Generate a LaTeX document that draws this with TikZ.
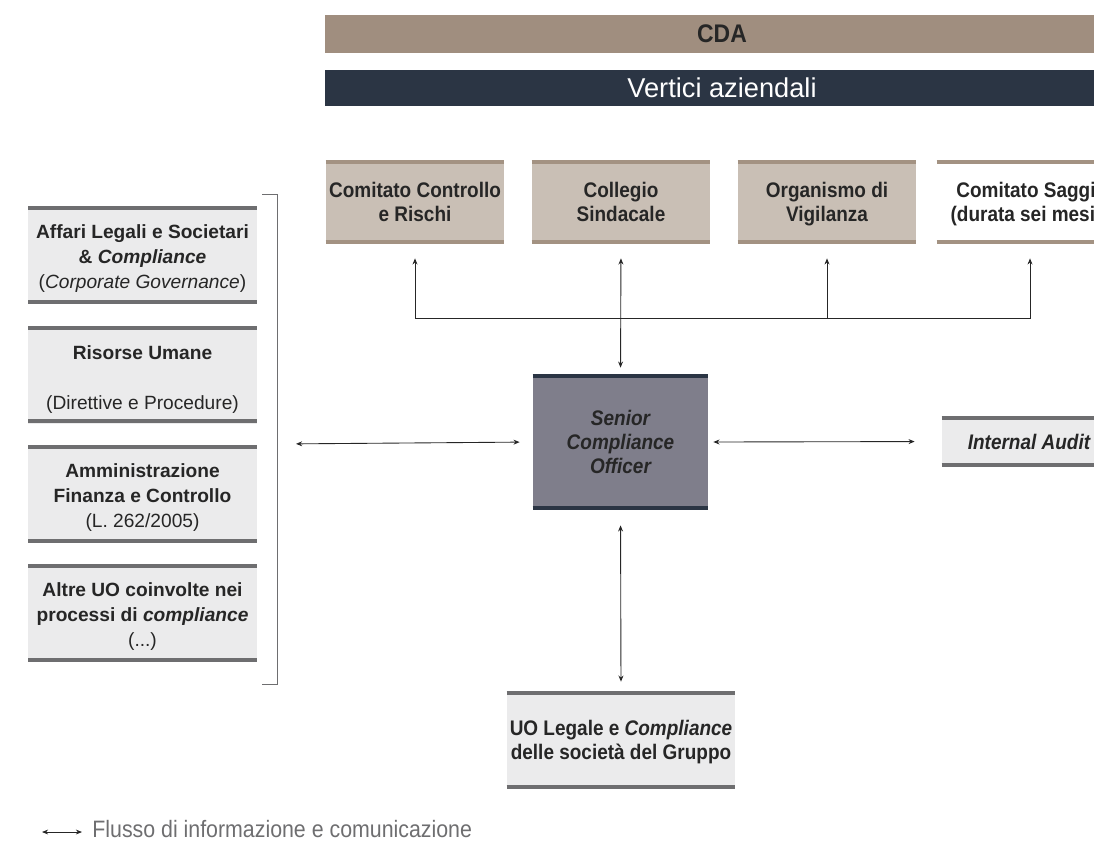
\documentclass[tikz,border=0pt]{standalone}
\usepackage{fontspec}
\setmainfont{Liberation Sans}
\newfontfamily\narrowfont[FakeStretch=0.9]{Liberation Sans}
\usetikzlibrary{arrows.meta}
\definecolor{BoardTaupe}{HTML}{A08E7F}
\definecolor{TopNavy}{HTML}{2B3544}
\definecolor{CommFill}{HTML}{C9BFB5}
\definecolor{CommRim}{HTML}{A39282}
\definecolor{OfficerFill}{HTML}{7F7E8B}
\definecolor{UnitFill}{HTML}{EBEBEC}
\definecolor{UnitRim}{HTML}{6E6E70}
\definecolor{InkDark}{HTML}{262626}
\newcommand{\topstrut}{\rule{0pt}{12.5pt}}
\newcommand{\botstrut}{\rule[-3.5pt]{0pt}{3.5pt}}

\begin{document}
\begin{tikzpicture}[
    x=0.02cm, y=-0.02cm,
    every node/.style={text=InkDark, align=center, inner sep=0pt},
    bar/.style={minimum width=15.88cm},
    comm/.style={fill=CommFill, minimum width=3.56cm, minimum height=1.6cm,
                 font=\narrowfont\fontsize{12}{13.7}\selectfont\bfseries},
    unit/.style={fill=UnitFill, minimum width=4.58cm, minimum height=1.88cm,
                 font=\fontsize{10.9}{14.2}\selectfont},
    arr/.style={{Stealth[length=3.5pt,width=2.8pt]}-{Stealth[length=3.5pt,width=2.8pt]},
                line width=0.5pt, draw=InkDark},
    uparr/.style={-{Stealth[length=3.5pt,width=2.8pt]}, line width=0.5pt, draw=InkDark},
    rim/.style={line width=0.08cm},
  ]
    \clip (0,0) rectangle (1094,843);

    % top bands
    \node[bar, fill=BoardTaupe, minimum height=0.76cm,
          font=\narrowfont\fontsize{14.5}{16}\selectfont\bfseries] (cda) at (722,34) {CDA};
    \node[bar, fill=TopNavy, minimum height=0.72cm, text=white,
          font=\fontsize{15.5}{18}\selectfont] (vert) at (722,88) {Vertici aziendali};

    % control bodies
    \node[comm] (ccr) at (415,202) {\topstrut Comitato Controllo\\e Rischi\botstrut};
    \node[comm] (cs)  at (621,202) {\topstrut Collegio\\Sindacale\botstrut};
    \node[comm] (odv) at (827,202) {\topstrut Organismo di\\Vigilanza\botstrut};
    \node[comm, fill=white] (csa) at (1026,202) {\topstrut Comitato Saggi\\(durata sei mesi)\botstrut};

    % officer and audit
    \node[fill=OfficerFill, minimum width=3.5cm, minimum height=2.64cm,
          font=\narrowfont\fontsize{12}{13.7}\selectfont\bfseries\itshape] (sco) at (620.5,442)
      {\topstrut Senior\\Compliance\\Officer\botstrut};
    \node[fill=UnitFill, minimum width=3.48cm, minimum height=0.94cm,
          font=\narrowfont\fontsize{12}{13.7}\selectfont\bfseries\itshape] (ia) at (1029,441.5)
      {Internal Audit};

    % group functions
    \node[unit] (alsc) at (142.5,256)
      {\topstrut\textbf{Affari Legali e Societari}\\\textbf{\& \textit{Compliance}}\\(\textit{Corporate Governance})\botstrut};
    \node[unit] (ru) at (142.5,377)
      {\topstrut\textbf{Risorse Umane}\\[14.2pt](Direttive e Procedure)\botstrut};
    \node[unit] (afc) at (142.5,495)
      {\topstrut\textbf{Amministrazione}\\\textbf{Finanza e Controllo}\\(L. 262/2005)\botstrut};
    \node[unit] (altre) at (142.5,614)
      {\topstrut\textbf{Altre UO coinvolte nei}\\\textbf{processi di \textit{compliance}}\\(...)\botstrut};

    \node[fill=UnitFill, minimum width=4.56cm, minimum height=1.88cm,
          font=\narrowfont\fontsize{12}{13.7}\selectfont\bfseries] (uo) at (621,740)
      {\topstrut UO Legale e \textit{Compliance}\\delle società del Gruppo\botstrut};

    % rims (the group boxes are drawn at their real edges)
    \foreach \n in {ccr, cs, odv, csa}
      \draw[rim, CommRim] (\n.north west) -- (\n.north east) (\n.south west) -- (\n.south east);
    \draw[rim, TopNavy] (sco.north west) -- (sco.north east) (sco.south west) -- (sco.south east);
    \foreach \n/\t/\b in {alsc/208/302, ru/328/421, afc/447/541, altre/566/660}
      \draw[rim, UnitRim] (28,\t) -- (257,\t) (28,\b) -- (257,\b);
    \foreach \n in {ia, uo}
      \draw[rim, UnitRim] (\n.north west) -- (\n.north east) (\n.south west) -- (\n.south east);

    % bracket round the group functions
    \coordinate (bt) at (262,194);
    \coordinate (bb) at (262,684);
    \coordinate (brk) at (277,444);
    \draw[line width=0.5pt, UnitRim] (bt) -- ++(15,0) |- (bb);

    % links
    \coordinate (bus) at (622,318);
    \draw[uparr, shorten >=0.32cm] (bus) -| (ccr.south);
    \draw[uparr, shorten >=0.32cm] (bus) -| ([xshift=0.08cm]csa.south);
    \draw[uparr, shorten >=0.32cm] (odv |- bus) -- (odv.south);
    \draw[arr, shorten <=0.16cm, shorten >=0.32cm] (sco.north) -- (cs.south);
    \draw[arr, shorten <=0.38cm, shorten >=0.26cm] (brk) -- (sco.west);
    \draw[arr, shorten <=0.1cm, shorten >=0.54cm] (sco.east) -- (ia.west);
    \draw[arr, shorten <=0.34cm, shorten >=0.22cm] (sco.south) -- (uo.north);

    % legend
    \coordinate (legA) at (42,832);
    \coordinate (legB) at (82,832);
    \draw[arr] (legA) -- (legB);
    \node[anchor=west, text=UnitRim, font=\narrowfont\fontsize{13.5}{15}\selectfont] (legtxt)
      at (92,829) {Flusso di informazione e comunicazione};
\end{tikzpicture}
\end{document}
